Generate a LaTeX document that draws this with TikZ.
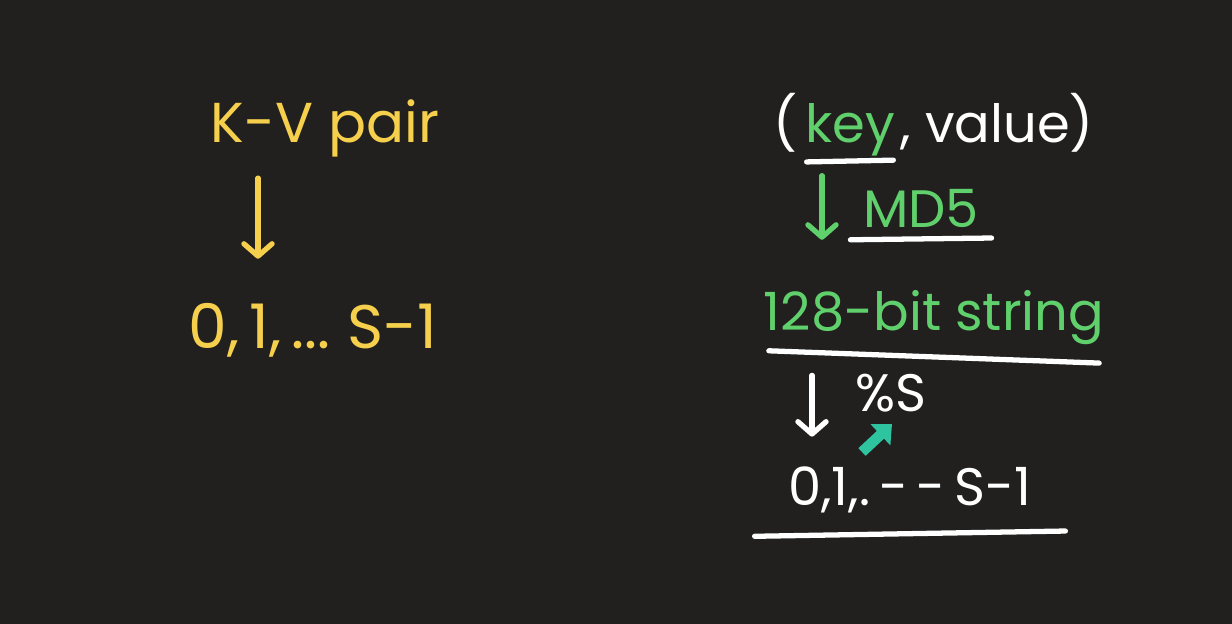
\documentclass[tikz,border=0pt]{standalone}
\usepackage{fontspec}
\setmainfont{Poppins}
\usetikzlibrary{positioning,arrows.meta}
\definecolor{board}{RGB}{33,32,31}
\definecolor{chalkyellow}{RGB}{246,208,76}
\definecolor{chalkgreen}{RGB}{96,208,108}
\definecolor{chalkteal}{RGB}{46,196,160}
\tikzset{
  hand/.style={font=\fontsize{30}{36}\selectfont, inner sep=1pt},
  bighand/.style={font=\fontsize{35}{42}\selectfont, inner sep=1pt},
  ytext/.style={hand, text=chalkyellow},
  gtext/.style={hand, text=chalkgreen},
  wtext/.style={hand, text=white},
  stroke/.style={line width=3pt, line cap=round, line join=round},
  downarrow/.style={stroke, -{Straight Barb[round,length=7pt,width=16pt]}},
  underline/.style={stroke, white},
}
\begin{document}
\begin{tikzpicture}
\fill[board] (0,0) rectangle (24.64,12.48);
% left side
\node[ytext, font=\fontsize{32}{38}\selectfont] (kv) at (6.5,9.92) {K-V pair};
\node[ytext, bighand] (lnum) at (6.26,5.88) {0,\,1,\,...\;S-1};
\coordinate (la) at (5.16,0);
\draw[downarrow, chalkyellow] ([yshift=-11pt]kv.south -| la) -- ([yshift=24pt]lnum.north -| la);
% right side
\node[gtext] (key) at (17.0,9.88) {key};
\node[wtext, base left=2pt of key] (lp) {(};
\node[wtext, base right=1pt of key] (kval) {, value)};
\draw[underline] ([xshift=2pt,yshift=-2pt]key.south west) -- ([xshift=-2pt,yshift=-1pt]key.south east);
\node[gtext] (md5) at (18.42,8.32) {MD5};
\draw[underline] ([xshift=-6pt,yshift=-6pt]md5.south west) -- ([xshift=6pt,yshift=-5pt]md5.south east);
\node[gtext] (bits) at (18.68,6.12) {128-bit string};
\draw[underline] ([xshift=4pt,yshift=-2pt]bits.south west) -- ([xshift=-4pt,yshift=-9pt]bits.south east);
\node[wtext] (mod) at (17.82,4.62) {\%S};
\node[wtext] (rnum) at (18.2,2.68) {0,1,.\,-\,-\,S-1};
\draw[underline] ([xshift=-18pt,yshift=-12pt]rnum.south west) -- ([xshift=18pt,yshift=-9pt]rnum.south east);
\coordinate (ga) at (16.44,0);
\coordinate (wa) at (16.24,0);
\draw[downarrow, chalkgreen] ([yshift=-12pt]kval.south -| ga) -- ([yshift=-6pt]md5.south -| ga);
\draw[downarrow, white] ([yshift=-16pt]bits.south -| wa) -- ([yshift=16pt]rnum.north -| wa);
\coordinate (tip) at (17.84,4.0);
\draw[chalkteal, line width=6pt, -{Triangle[length=9pt,width=16pt]}] (17.24,3.44) -- (tip);
\end{tikzpicture}
\end{document}
